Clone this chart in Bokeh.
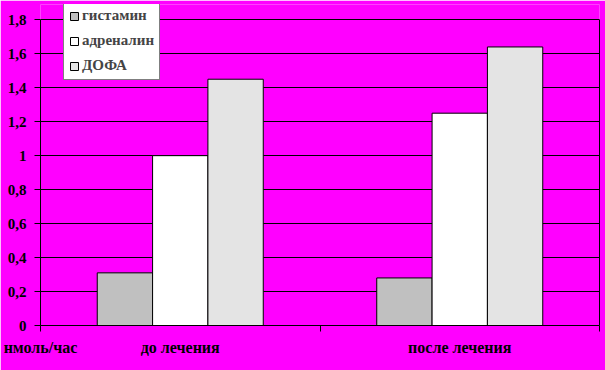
from bokeh.plotting import figure
from bokeh.models import (ColumnDataSource, Range1d, LinearAxis,
                          FixedTicker, Legend, LegendItem)
from bokeh.transform import dodge
from bokeh.embed import file_html
from bokeh.resources import INLINE

categories = ["до лечения", "после лечения"]
series_names = ["гистамин", "адреналин", "ДОФА"]
histamine = [0.31, 0.28]
adrenaline = [1.0, 1.25]
dopa = [1.45, 1.64]
y_ticks = [0, 0.2, 0.4, 0.6, 0.8, 1, 1.2, 1.4, 1.6, 1.8]
y_tick_labels = ["0", "0,2", "0,4", "0,6", "0,8", "1", "1,2", "1,4", "1,6", "1,8"]
unit_label = "нмоль/час"

FONT = "Liberation Serif"
BG = "#FF00FF"
colors = ["#C0C0C0", "#FFFFFF", "#E4E4E4"]

n = len(categories)
centers = [i + 0.5 for i in range(n)]
src = ColumnDataSource(dict(pos=centers, cat=categories, hist=histamine, adr=adrenaline, dopa=dopa))

y_axis_max = y_ticks[-1]
# headroom above the top gridline so the legend box can sit above it
y_view_max = 1.89

p = figure(width=605, height=370, x_range=Range1d(0, n), y_range=Range1d(0, y_view_max),
           output_backend="svg", toolbar_location=None,
           min_border_left=40, min_border_right=6, min_border_top=4, min_border_bottom=45,
           background_fill_color=BG, border_fill_color=BG,
           outline_line_color=None)

bw = 0.198
renderers = []
for field, off, col in zip(["hist", "adr", "dopa"], [-bw, 0, bw], colors):
    r = p.vbar(x=dodge("pos", off), top=field, width=bw, source=src,
               fill_color=col, line_color="black", line_width=1)
    renderers.append(r)

# y axis
yt = FixedTicker(ticks=y_ticks)
ya = p.yaxis[0]
ya.ticker = yt
ya.bounds = (0, y_axis_max)
p.ygrid.ticker = yt
ya.major_label_overrides = dict(zip(y_ticks, y_tick_labels))
ya.axis_line_color = "black"
ya.major_tick_out = 6
ya.major_tick_in = 0
ya.minor_tick_line_color = None
ya.major_label_text_font = FONT
ya.major_label_text_font_style = "bold"
ya.major_label_text_font_size = "15px"
ya.major_label_text_color = "black"
ya.major_label_standoff = 8
p.ygrid.grid_line_color = "black"
p.ygrid.grid_line_width = 1
p.xgrid.grid_line_color = None

# right border line
ra = LinearAxis(bounds=(0, y_axis_max), ticker=FixedTicker(ticks=[]),
                major_tick_out=0, major_tick_in=0, minor_tick_line_color=None,
                major_tick_line_color=None, major_label_text_font_size="0px",
                major_label_standoff=0, axis_line_color="black")
p.add_layout(ra, "right")

# x axis: boundary ticks (no labels)
bounds = list(range(n + 1))
xa = p.xaxis[0]
xa.ticker = FixedTicker(ticks=bounds)
xa.major_tick_out = 6
xa.major_tick_in = 0
xa.minor_tick_line_color = None
xa.major_label_text_font_size = "0px"
xa.major_label_standoff = 0
xa.major_label_overrides = {b: "" for b in bounds}
xa.axis_line_color = "black"
xa.major_tick_line_color = "black"

# category labels + unit label at the start of the axis
label_ticks = [0] + centers
label_texts = [unit_label] + categories
cax = LinearAxis(ticker=FixedTicker(ticks=label_ticks),
                 major_label_overrides=dict(zip(label_ticks, label_texts)),
                 axis_line_color=None, major_tick_line_color=None, minor_tick_line_color=None,
                 major_tick_out=0, major_tick_in=0, major_label_standoff=7,
                 major_label_text_font=FONT, major_label_text_font_style="bold",
                 major_label_text_font_size="16px", major_label_text_color="black")
p.add_layout(cax, "below")

legend = Legend(items=[LegendItem(label=nm, renderers=[r]) for nm, r in zip(series_names, renderers)],
                location=(23, 245), background_fill_color="white", background_fill_alpha=1,
                border_line_color="black", border_line_width=1,
                label_text_font=FONT, label_text_font_style="bold", label_text_font_size="15px",
                glyph_width=10, glyph_height=10, label_standoff=3, spacing=8, padding=5,
                margin=0, label_height=15)
p.add_layout(legend)

open("out.html", "w").write(file_html(p, INLINE))
